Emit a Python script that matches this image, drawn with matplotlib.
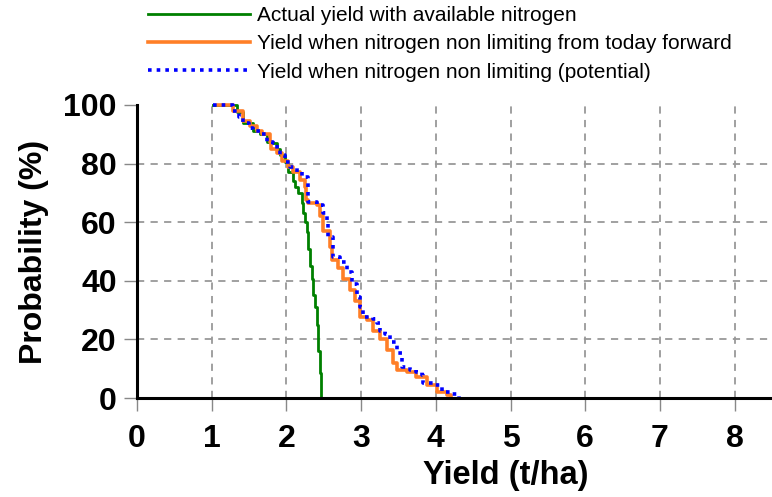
import matplotlib
matplotlib.use("Agg")
import matplotlib.pyplot as plt

plt.rcParams['font.family'] = ['Liberation Sans', 'DejaVu Sans']

# Exceedance curves: yield (t/ha) against probability (%) of reaching it
actual_yield = [1.02, 1.25, 1.34, 1.42, 1.55, 1.65, 1.74, 1.82, 1.87, 1.91, 1.98, 2.02, 2.09, 2.12,
                2.16, 2.21, 2.22, 2.25, 2.27, 2.29, 2.32, 2.34, 2.36, 2.38, 2.41, 2.42, 2.45, 2.46, 2.46]
actual_prob = [100, 100, 97.5, 94, 91, 90, 87.5, 87, 85, 83, 80.5, 77, 74, 72,
               70, 66.5, 63, 60, 56.5, 51, 45, 40.5, 35, 31, 25, 16, 8.5, 3, 0]

today_yield = [1.08, 1.25, 1.29, 1.42, 1.51, 1.60, 1.67, 1.78, 1.80, 1.87, 1.94, 2.02, 2.09, 2.18,
               2.25, 2.26, 2.29, 2.41, 2.45, 2.49, 2.58, 2.61, 2.69, 2.76, 2.85, 2.92, 2.98, 3.08,
               3.16, 3.25, 3.34, 3.43, 3.48, 3.61, 3.74, 3.88, 4.01, 4.15, 4.20]
today_prob = [100, 100, 98, 94.5, 93, 91, 90, 87.5, 85, 83.5, 81, 79, 77, 74.5,
              72, 67.5, 66.5, 66, 62, 57, 51.5, 47, 44.5, 40.5, 37, 33, 27.5, 26.5,
              23, 20, 16.5, 12, 9.5, 9, 7, 4.5, 2, 1, 0]

potential_yield = [1.02, 1.25, 1.29, 1.36, 1.42, 1.50, 1.55, 1.65, 1.74, 1.82, 1.87, 1.91, 1.98, 2.05,
                   2.14, 2.21, 2.29, 2.29, 2.41, 2.49, 2.54, 2.56, 2.62, 2.63, 2.72, 2.81, 2.88, 2.94,
                   2.98, 3.03, 3.16, 3.21, 3.25, 3.32, 3.39, 3.48, 3.55, 3.65, 3.74, 3.81, 3.83, 3.96,
                   4.05, 4.08, 4.19, 4.28, 4.31]
potential_prob = [100, 100, 98, 96, 94, 92, 91, 90, 87.5, 87, 85, 83, 80.5, 79,
                  77, 75.5, 73, 67, 66, 63, 60, 55, 51.5, 48, 46.5, 43, 39, 34.5,
                  31, 27.5, 27, 25.5, 23, 22, 19, 15.5, 10.5, 9.5, 9, 8, 5, 4.5,
                  4, 2, 1.5, 1, 0.5]

labels = ["Actual yield with available nitrogen",
          "Yield when nitrogen non limiting from today forward",
          "Yield when nitrogen non limiting (potential)"]
x_ticks = [0, 1, 2, 3, 4, 5, 6, 7, 8]
y_ticks = [0, 20, 40, 60, 80, 100]

fig = plt.figure(figsize=(7.72, 4.97), dpi=100)
ax = fig.add_axes([137 / 772, 99 / 497, 635 / 772, 293 / 497])

l1, = ax.plot(actual_yield, actual_prob, color='#008000', lw=2.0,
              drawstyle='steps-post', clip_on=False, zorder=3)
l2, = ax.plot(today_yield, today_prob, color='#ff7f27', lw=2.6,
              drawstyle='steps-post', clip_on=False, zorder=4)
l3, = ax.plot(potential_yield, potential_prob, color='#0000ff', lw=2.6,
              linestyle=(0, (1.0, 1.4)), drawstyle='steps-post', clip_on=False, zorder=5)

ax.set_xlim(0, 8.5)
ax.set_ylim(0, 100)
ax.set_xticks(x_ticks)
ax.set_yticks(y_ticks)

ax.grid(True, color='#999999', linestyle=(0, (4, 3.5)), lw=1.3)
# no horizontal grid line along the top edge
ax.get_ygridlines()[-1].set_visible(False)
ax.get_xgridlines()[0].set_visible(False)

for side in ['top', 'right']:
    ax.spines[side].set_visible(False)
for side in ['left', 'bottom']:
    ax.spines[side].set_linewidth(2.2)
    ax.spines[side].set_color('black')
    ax.spines[side].set_zorder(6)

ax.tick_params(length=9.5, width=1, color='#888888', pad=5, labelsize=23)
ax.tick_params(axis='x', pad=9)
for lab in ax.get_xticklabels() + ax.get_yticklabels():
    lab.set_fontweight('bold')

ax.set_xlabel("Yield (t/ha)", fontsize=23.5, fontweight='bold')
ax.xaxis.set_label_coords(0.581, -0.21)
ax.set_ylabel("Probability (%)", fontsize=23, fontweight='bold', labelpad=10)

fig.legend([l1, l2, l3], labels, loc='upper left', bbox_to_anchor=(140 / 772, 1.005),
           frameon=False, fontsize=15, handlelength=4.9, handletextpad=0.3,
           labelspacing=0.45, borderaxespad=0)

fig.savefig("out.png", dpi=100)
